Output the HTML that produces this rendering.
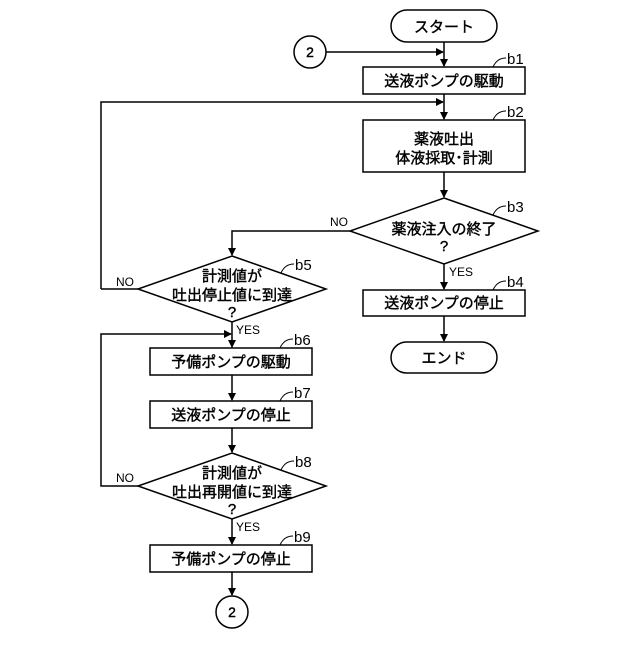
<!DOCTYPE html>
<html><head><meta charset="utf-8"><style>
body{margin:0;background:#fff}
svg text{font-family:"Liberation Sans","Noto Sans CJK JP",sans-serif;fill:#000}
.t{font-size:15px;text-anchor:middle;stroke:#000;stroke-width:0.4}
.s{font-size:12px}
.l{font-size:15px}
</style></head><body>
<svg width="640" height="640" viewBox="0 0 640 640" xmlns="http://www.w3.org/2000/svg">
<defs><marker id="a" markerWidth="8" markerHeight="8" refX="7" refY="4" orient="auto" markerUnits="userSpaceOnUse"><path d="M0,0 L8,4 L0,8 Z" fill="#000"/></marker></defs>
<g fill="none" stroke="#000" stroke-width="1.5">
<rect x="391" y="10" width="106" height="32" rx="16"/>
<circle cx="310" cy="52" r="16"/>
<rect x="363" y="67" width="162" height="27"/>
<rect x="363" y="120" width="162" height="52"/>
<polygon points="444,198 538,231 444,264 350,231"/>
<rect x="363" y="290" width="162" height="26"/>
<rect x="391" y="342" width="106" height="31" rx="15.5"/>
<polygon points="232,256 326,289 232,322 138,289"/>
<rect x="150" y="348" width="162" height="27"/>
<rect x="150" y="401" width="162" height="27"/>
<polygon points="232,453 326,486 232,519 138,486"/>
<rect x="150" y="545" width="162" height="27"/>
<circle cx="232" cy="612" r="16"/>
<path d="M444,42 V66" marker-end="url(#a)"/>
<path d="M326,52 H443" marker-end="url(#a)"/>
<path d="M444,94 V119" marker-end="url(#a)"/>
<path d="M101,289 H138 M101,289 V102 H443" marker-end="url(#a)"/>
<path d="M444,172 V197" marker-end="url(#a)"/>
<path d="M350,231 H232 V255" marker-end="url(#a)"/>
<path d="M444,264 V289" marker-end="url(#a)"/>
<path d="M444,316 V341" marker-end="url(#a)"/>
<path d="M232,322 V347" marker-end="url(#a)"/>
<path d="M138,486 H101 V334 H231" marker-end="url(#a)"/>
<path d="M232,375 V400" marker-end="url(#a)"/>
<path d="M232,428 V452" marker-end="url(#a)"/>
<path d="M232,519 V544" marker-end="url(#a)"/>
<path d="M232,572 V595" marker-end="url(#a)"/>
<g stroke-width="1">
<path d="M493,67 Q497,58 506,58"/>
<path d="M493,120 Q497,111 506,111"/>
<path d="M493,215 Q497,206 506,206"/>
<path d="M493,290 Q497,281 506,281"/>
<path d="M281,273 Q285,264 294,264"/>
<path d="M280,348 Q284,339 293,339"/>
<path d="M280,401 Q284,392 293,392"/>
<path d="M281,470 Q285,461 294,461"/>
<path d="M280,545 Q284,536 293,536"/>
</g>
</g>
<text class="t" x="444" y="32">スタート</text>
<text class="t" x="310" y="57" style="font-size:14px">2</text>
<text class="t" x="444" y="86">送液ポンプの駆動</text>
<text class="t" x="444" y="144">薬液吐出</text>
<text class="t" x="444" y="163">体液採取･計測</text>
<text class="t" x="444" y="234">薬液注入の終了</text>
<text class="t" x="444" y="251">?</text>
<text class="t" x="444" y="308">送液ポンプの停止</text>
<text class="t" x="444" y="363">エンド</text>
<text class="t" x="232" y="281">計測値が</text>
<text class="t" x="232" y="300">吐出停止値に到達</text>
<text class="t" x="232" y="317">?</text>
<text class="t" x="231" y="367">予備ポンプの駆動</text>
<text class="t" x="231" y="420">送液ポンプの停止</text>
<text class="t" x="232" y="478">計測値が</text>
<text class="t" x="232" y="497">吐出再開値に到達</text>
<text class="t" x="232" y="514">?</text>
<text class="t" x="231" y="564">予備ポンプの停止</text>
<text class="t" x="232" y="617" style="font-size:14px">2</text>
<text class="s" x="330" y="226">NO</text>
<text class="s" x="449" y="276">YES</text>
<text class="s" x="116" y="286">NO</text>
<text class="s" x="236" y="334">YES</text>
<text class="s" x="116" y="482">NO</text>
<text class="s" x="236" y="531">YES</text>
<text class="l" x="507" y="64">b1</text>
<text class="l" x="507" y="117">b2</text>
<text class="l" x="507" y="212">b3</text>
<text class="l" x="507" y="287">b4</text>
<text class="l" x="295" y="270">b5</text>
<text class="l" x="294" y="345">b6</text>
<text class="l" x="294" y="398">b7</text>
<text class="l" x="295" y="467">b8</text>
<text class="l" x="294" y="542">b9</text>
</svg>
</body></html>
